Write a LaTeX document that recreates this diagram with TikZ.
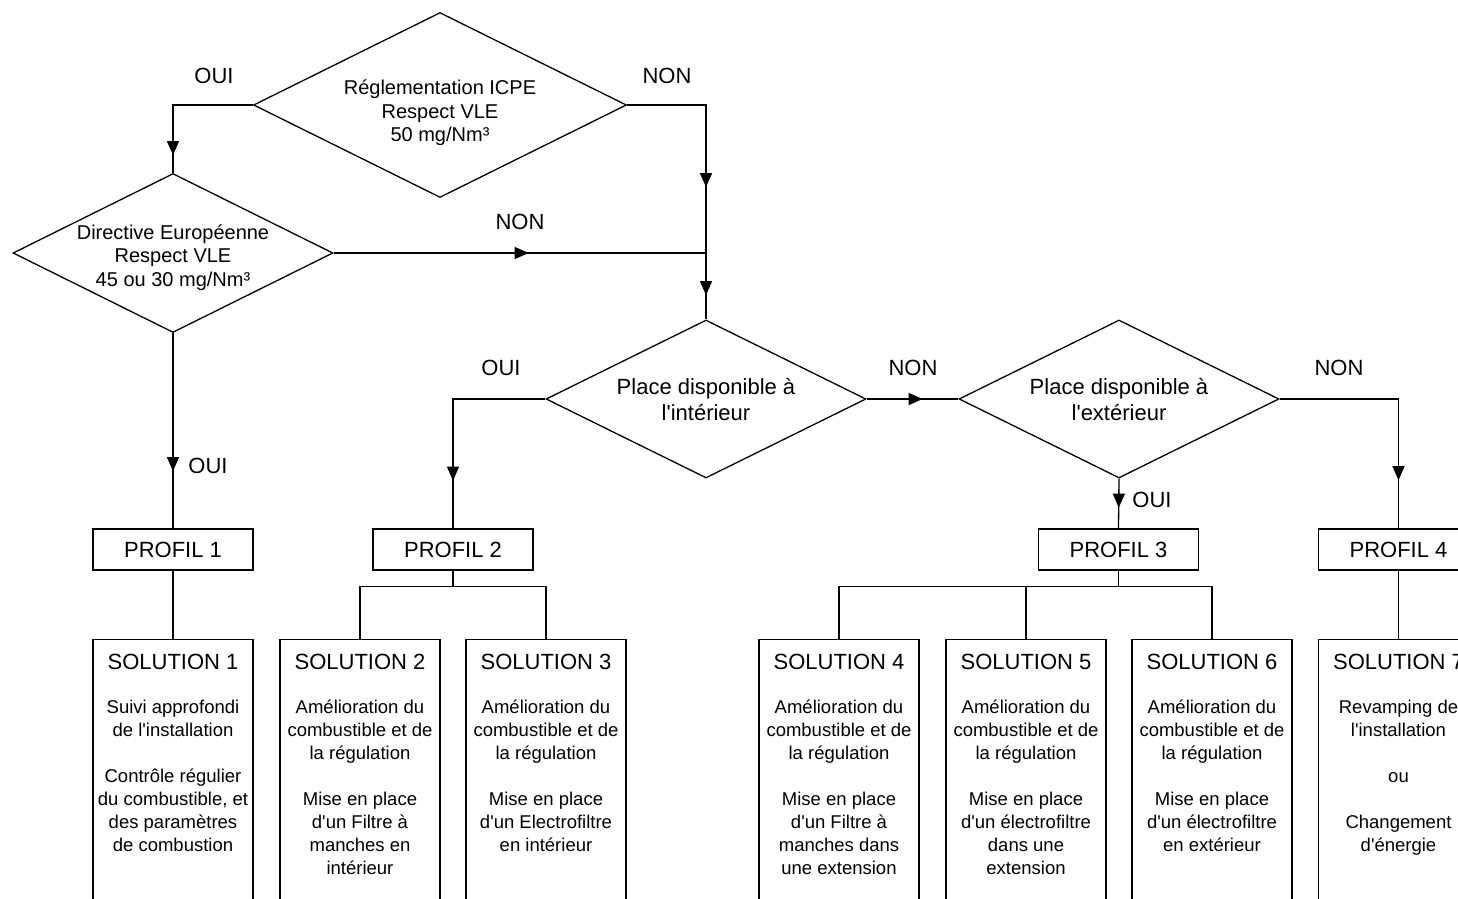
\documentclass[tikz,border=0pt]{standalone}
\usepackage{fontspec}
\setmainfont{Liberation Sans}[Ligatures=TeXOff]
\usetikzlibrary{shapes.geometric,arrows.meta,decorations.markings,calc}
\begin{document}
\begin{tikzpicture}[x=0.5pt,y=-0.5pt]
\tikzset{
  ln/.style={line width=0.65pt},
  dia/.style={diamond, draw, ln, inner sep=0pt},
  diatxt/.style={align=center, inner sep=0pt, font=\fontsize{10}{11.75}\selectfont},
  diatxtb/.style={align=center, inner sep=0pt, font=\fontsize{11}{13}\selectfont},
  profbox/.style={draw, ln, minimum width=80pt, minimum height=20.5pt, inner sep=0pt, font=\fontsize{11}{13}\selectfont},
  solbox/.style={draw, ln, minimum width=80pt, minimum height=160pt, anchor=north, inner sep=0pt},
  soltitle/.style={inner sep=0pt, font=\fontsize{11}{13}\selectfont},
  soltext/.style={align=center, inner sep=0pt, anchor=north, font=\fontsize{9.25}{11.5}\selectfont},
  lbl/.style={inner sep=0pt, font=\fontsize{11}{13}\selectfont},
  tipat/.style={postaction={decorate},decoration={markings,mark=at position #1 with {\arrow{Triangle[length=7pt,width=6pt]}}}},
  tiptwo/.style 2 args={postaction={decorate},decoration={markings,
     mark=at position #1 with {\arrow{Triangle[length=7pt,width=6pt]}},
     mark=at position #2 with {\arrow{Triangle[length=7pt,width=6pt]}}}},
}
\clip (0,0) rectangle (1458,899);

% decisions
\node[dia, minimum width=186.5pt, minimum height=92.5pt] (d1) at (440,105) {};
\node[diatxt] (d1t) at (440,113) {Réglementation ICPE\\Respect VLE\\50 mg/Nm³};
\node[dia, minimum width=160pt, minimum height=79.5pt] (d2) at (173,253) {};
\node[diatxt] (d2t) at (173,257.5) {Directive Européenne\\Respect VLE\\45 ou 30 mg/Nm³};
\node[dia, minimum width=160pt, minimum height=79pt] (d3) at (706,399) {};
\node[diatxtb] (d3t) at (706,400) {Place disponible à\\l'intérieur};
\node[dia, minimum width=160pt, minimum height=79pt] (d4) at (1119,399) {};
\node[diatxtb] (d4t) at (1119,400) {Place disponible à\\l'extérieur};

% profiles
\node[profbox] (p1) at (173,549.5) {PROFIL 1};
\node[profbox] (p2) at (453,549.5) {PROFIL 2};
\node[profbox] (p3) at (1118.5,549.5) {PROFIL 3};
\node[profbox] (p4) at (1398.5,549.5) {PROFIL 4};

% solutions
\node[solbox] (s1) at (173,639) {};
\node[solbox] (s2) at (360,639) {};
\node[solbox] (s3) at (546,639) {};
\node[solbox] (s4) at (839,639) {};
\node[solbox] (s5) at (1026,639) {};
\node[solbox] (s6) at (1212,639) {};
\node[solbox] (s7) at (1398.5,639) {};

\foreach \s/\n in {s1/1,s2/2,s3/3,s4/4,s5/5,s6/6,s7/7}{
  \node[soltitle] (\s t) at ($(\s.north)+(0,23)$) {SOLUTION \n};
}
\node[soltext] (s1b) at ($(s1.north)+(0,59)$) {\rule{0pt}{7.4pt}Suivi approfondi\\de l'installation\\[11.5pt]Contrôle régulier\\du combustible, et\\des paramètres\\de combustion};
\node[soltext] (s2b) at ($(s2.north)+(0,59)$) {\rule{0pt}{7.4pt}Amélioration du\\combustible et de\\la régulation\\[11.5pt]Mise en place\\d'un Filtre à\\manches en\\intérieur};
\node[soltext] (s3b) at ($(s3.north)+(0,59)$) {\rule{0pt}{7.4pt}Amélioration du\\combustible et de\\la régulation\\[11.5pt]Mise en place\\d'un Electrofiltre\\en intérieur};
\node[soltext] (s4b) at ($(s4.north)+(0,59)$) {\rule{0pt}{7.4pt}Amélioration du\\combustible et de\\la régulation\\[11.5pt]Mise en place\\d'un Filtre à\\manches dans\\une extension};
\node[soltext] (s5b) at ($(s5.north)+(0,59)$) {\rule{0pt}{7.4pt}Amélioration du\\combustible et de\\la régulation\\[11.5pt]Mise en place\\d'un électrofiltre\\dans une\\extension};
\node[soltext] (s6b) at ($(s6.north)+(0,59)$) {\rule{0pt}{7.4pt}Amélioration du\\combustible et de\\la régulation\\[11.5pt]Mise en place\\d'un électrofiltre\\en extérieur};
\node[soltext] (s7b) at ($(s7.north)+(0,59)$) {\rule{0pt}{7.4pt}Revamping de\\l'installation\\[11.5pt]ou\\[11.5pt]Changement\\d'énergie};

% connectors
\draw[ln, tipat=65pt] (d1.west) -| (d2.north);
\draw[ln, tiptwo={80.5pt}{134.5pt}] (d1.east) -| (d3.north);
\draw[ln, tipat=97.5pt] (d2.east) -| (d3.north);
\draw[ln, tipat=69pt] (d2.south) -- (p1.north);
\draw[ln, tipat=87pt] (d3.west) -| (p2.north);
\draw[ln, tipat=28pt] (d3.east) -- (d4.west);
\draw[ln, tipat=14.5pt] (d4.south) -- (p3.north);
\draw[ln, tipat=100pt] (d4.east) -| (p4.north);

\draw[ln] (p1.south) -- (s1.north);
\draw[ln] (p2.south) -- ++(0,16) coordinate (b2) -| (s2.north);
\draw[ln] (b2) -| (s3.north);
\draw[ln] (p3.south) -- ++(0,16) coordinate (b3) -| (s4.north);
\draw[ln] (b3) -| (s6.north);
\draw[ln] (s5.north |- b3) -- (s5.north);
\draw[ln] (p4.south) -- (s7.north);

% labels
\node[lbl] (l1) at (214,76) {OUI};
\node[lbl] (l2) at (667,76) {NON};
\node[lbl] (l3) at (520,222) {NON};
\node[lbl] (l4) at (208,466) {OUI};
\node[lbl] (l5) at (501,368) {OUI};
\node[lbl] (l6) at (913,368) {NON};
\node[lbl] (l7) at (1339,368) {NON};
\node[lbl] (l8) at (1152,500) {OUI};
\end{tikzpicture}
\end{document}
